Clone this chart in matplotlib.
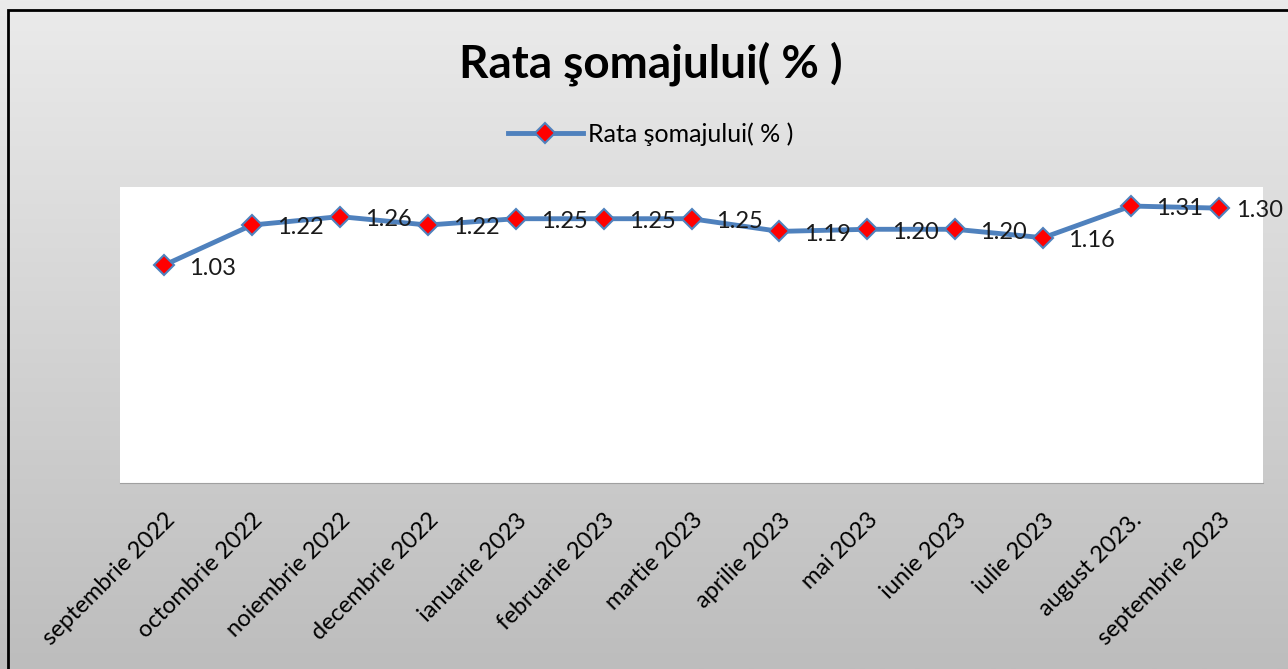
import numpy as np
import matplotlib.pyplot as plt
from matplotlib.patches import Rectangle

plt.rcParams['font.family'] = ['Lato', 'DejaVu Sans']

luni = ['septembrie 2022', 'octombrie 2022', 'noiembrie 2022', 'decembrie 2022',
        'ianuarie 2023', 'februarie 2023', 'martie 2023', 'aprilie 2023',
        'mai 2023', 'iunie 2023', 'iulie 2023', 'august 2023.', 'septembrie 2023']
rata = [1.03, 1.22, 1.26, 1.22, 1.25, 1.25, 1.25, 1.19, 1.20, 1.20, 1.16, 1.31, 1.30]
titlu = 'Rata şomajului( % )'

fig = plt.figure(figsize=(12.88, 6.69), dpi=100)

# fundal cu gradient
bg = fig.add_axes([0, 0, 1, 1], zorder=-10)
grad = np.linspace(0, 1, 256).reshape(-1, 1)
bg.imshow(grad, aspect='auto', cmap=plt.cm.colors.LinearSegmentedColormap.from_list(
    'g', ['#ebebeb', '#bdbdbd']), extent=[0, 1, 0, 1], origin='upper')
bg.axis('off')
fig.patches.append(Rectangle((8 / 1288, -0.1), 1.2, (669 - 10) / 669 + 0.1,
                             transform=fig.transFigure, fill=False,
                             edgecolor='black', linewidth=2))

ax = fig.add_axes([120 / 1288, 186 / 669, 1143 / 1288, 296 / 669])
ax.set_facecolor('white')
x = np.arange(len(luni))
ax.plot(x, rata, color='#4f81bd', linewidth=3.5, marker='D', markersize=10,
        markerfacecolor='red', markeredgecolor='#4f81bd', markeredgewidth=1.5,
        label=titlu, zorder=3)
for i, (xi, v) in enumerate(zip(x, rata)):
    dx = 12 if i == len(rata) - 1 else 18   # ultima eticheta, la margine
    ax.annotate(f'{v:.2f}', (xi, v), xytext=(dx, -2), textcoords='offset points',
                ha='left', va='center', fontsize=17, color='#1a1a1a', zorder=4,
                annotation_clip=False)

ax.set_xlim(-0.5, len(luni) - 0.5)
ax.set_ylim(0, 1.4)
ax.set_yticks([])
ax.set_xticks(x)
ax.set_xticklabels(luni, rotation=45, ha='right', rotation_mode='anchor', fontsize=17)
ax.tick_params(axis='x', length=0, pad=19)
for s in ['top', 'left', 'right']:
    ax.spines[s].set_visible(False)
ax.spines['bottom'].set_color('#a0a0a0')

fig.text(0.505, 0.905, titlu, ha='center', va='center', fontsize=33, fontweight='bold')
fig.legend(loc='center', bbox_to_anchor=(0.505, 0.80), frameon=False, fontsize=18,
           handlelength=3, handletextpad=0.2)

fig.savefig('out.png', dpi=100)
